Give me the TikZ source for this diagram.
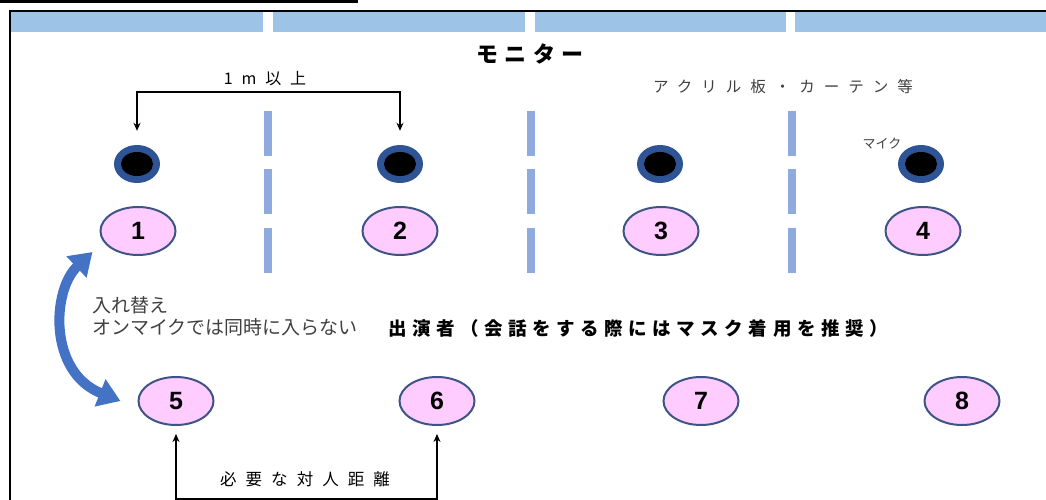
\documentclass[tikz,border=0pt]{standalone}
\usepackage{fontspec}
\usetikzlibrary{arrows.meta,shapes.geometric,calc}
\newfontfamily\jp{Noto Sans CJK JP}
\newfontfamily\numf{Liberation Sans}
\definecolor{barblue}{HTML}{9DC3E6}
\definecolor{dashblue}{HTML}{8FAADC}
\definecolor{micblue}{HTML}{2F5496}
\definecolor{pinkf}{HTML}{FFCCFF}
\definecolor{ellb}{HTML}{3E5486}
\definecolor{arrowblue}{HTML}{4472C4}
\definecolor{txtgray}{HTML}{404040}
\begin{document}
\begin{tikzpicture}[x=1pt,y=-1pt,
  person/.style={ellipse,draw=ellb,line width=2pt,fill=pinkf,minimum width=75pt,minimum height=48pt,inner sep=0pt,font=\numf\bfseries\fontsize{25}{25}\selectfont},
  micout/.style={ellipse,fill=micblue,minimum width=46pt,minimum height=38pt,inner sep=0pt},
  micin/.style={ellipse,fill=black,minimum width=32pt,minimum height=24pt,inner sep=0pt},
  barseg/.style={fill=barblue,draw=none},
  screen/.style={line width=8pt,draw=dashblue},
  bracket/.style={line width=1.5pt,{Stealth[length=8pt,width=7pt]}-{Stealth[length=8pt,width=7pt]}},
  swap/.style={draw=arrowblue,line width=10pt,{Triangle[length=22pt,width=28pt]}-{Triangle[length=22pt,width=28pt]}},
  lbl/.style={inner sep=0pt,anchor=center}
]
\useasboundingbox (0,0) rectangle (1046,500);
\fill[white] (0,0) rectangle (1046,500);
% top black rule and frame
\draw[line width=3pt] (0,1.5) -- (358,1.5);
\draw[line width=2pt] (10,502) -- (10,11) -- (1048,11);
% monitor bar
\fill[barseg] (11,12) rectangle (263,32);
\fill[barseg] (273,12) rectangle (525,32);
\fill[barseg] (535,12) rectangle (786,32);
\fill[barseg] (795,12) rectangle (1046,32);
% screens (acrylic panels)
\foreach \xx in {268,531,792}{
  \draw[screen] (\xx,111) -- (\xx,156);
  \draw[screen] (\xx,169) -- (\xx,214);
  \draw[screen] (\xx,228) -- (\xx,273);
}
% microphones
\foreach \i/\xx in {1/137,2/400,3/660,4/921}{
  \node[micout] (m\i) at (\xx,164) {};
  \node[micin] (mi\i) at (\xx,164) {};
}
% performers
\node[person] (e1) at (138,231) {1};
\node[person] (e2) at (400,231) {2};
\node[person] (e3) at (661,231) {3};
\node[person] (e4) at (923,231) {4};
\node[person] (e5) at (176,401) {5};
\node[person] (e6) at (437,401) {6};
\node[person] (e7) at (701,401) {7};
\node[person] (e8) at (962,401) {8};
% texts
\node[lbl,font=\jp\bfseries\fontsize{22}{26}\selectfont\addfontfeature{LetterSpace=30}] (title) at (530,54) {モニター};
\node[lbl,font=\jp\fontsize{16}{19}\selectfont\addfontfeature{LetterSpace=55}] (dist1) at (265,79) {1m以上};
\node[lbl,text=txtgray,font=\jp\fontsize{15.5}{18}\selectfont\addfontfeature{LetterSpace=58}] (panel) at (783,87) {アクリル板・カーテン等};
\node[lbl,text=txtgray,font=\jp\fontsize{13}{15}\selectfont] (mic) at (882,144) {マイク};
\node[lbl,anchor=west,text=txtgray,font=\jp\fontsize{19}{22}\selectfont] (swap1) at (92,305) {入れ替え};
\node[lbl,anchor=west,text=txtgray,font=\jp\fontsize{19}{22}\selectfont] (swap2) at (92,327) {オンマイクでは同時に入らない};
\node[lbl,font=\jp\bfseries\fontsize{18.5}{22}\selectfont\addfontfeature{LetterSpace=30}] (perf) at (638,328) {出演者（会話をする際にはマスク着用を推奨）};
\node[lbl,font=\jp\fontsize{16.5}{19}\selectfont\addfontfeature{LetterSpace=55}] (dist2) at (305,479) {必要な対人距離};
% brackets
\draw[bracket] ([yshift=14pt]m1.north) -- ++(0,-39) -| ([yshift=14pt]m2.north);
\draw[bracket] ([yshift=-8pt]e5.south) -- ++(0,65) -| ([yshift=-8pt]e6.south);
% swap arrow
\draw[swap] ([xshift=-7pt,yshift=-21pt]e1.west) .. controls (52,290) and (48,372) .. ([xshift=-17pt]e5.west);
\end{tikzpicture}
\end{document}
